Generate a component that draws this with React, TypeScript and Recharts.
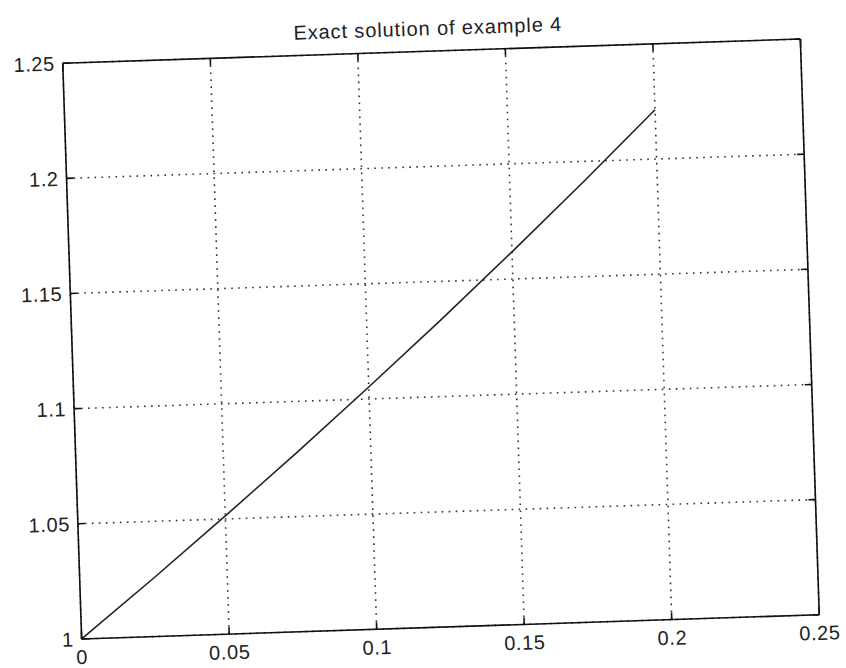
import React from "react";
import { LineChart, Line, XAxis, YAxis, CartesianGrid } from "recharts";

const xValues = [0, 0.025, 0.05, 0.075, 0.1, 0.125, 0.15, 0.175, 0.2];
const yValues = [1, 1.0253, 1.0513, 1.0779, 1.1052, 1.1331, 1.1618, 1.1912, 1.2214];
const xTicks = [0, 0.05, 0.1, 0.15, 0.2, 0.25];
const yTicks = [1, 1.05, 1.1, 1.15, 1.2, 1.25];
const title = "Exact solution of example 4";

const data = xValues.map((x, i) => ({ x, y: yValues[i] }));

const fmt = (v: number) => String(v);
const blank = () => "";
const font = { fontFamily: "'Liberation Sans', Arial, sans-serif", fontSize: 20, fill: "#222", letterSpacing: 0.6 };

export default function App() {
  return (
    <div
      style={{
        position: "absolute",
        left: 0,
        top: 0,
        width: 846,
        height: 668,
        background: "#fff",
        transform: "rotate(-1.88deg)",
        transformOrigin: "440.75px 338.75px",
      }}
    >
      <div
        style={{
          position: "absolute",
          left: 238,
          width: 400,
          top: 16,
          textAlign: "center",
          fontFamily: "'Liberation Sans', Arial, sans-serif",
          fontSize: 20,
          letterSpacing: 0.9,
          color: "#222",
          lineHeight: "24px",
        }}
      >
        {title}
      </div>
      <LineChart
        width={846}
        height={668}
        data={data}
        margin={{ top: 50, right: 35, bottom: 0, left: 0 }}
      >
        <CartesianGrid
          xAxisId="b"
          yAxisId="l"
          stroke="#333"
          strokeWidth={1.6}
          strokeDasharray="1.6 5.4"
          verticalValues={xTicks}
          horizontalValues={yTicks}
        />
        <XAxis
          xAxisId="b"
          dataKey="x"
          type="number"
          domain={[0, 0.25]}
          ticks={xTicks}
          tickFormatter={fmt}
          orientation="bottom"
          height={41}
          tickSize={-7}
          tickMargin={18}
          axisLine={{ stroke: "#111", strokeWidth: 1.6 }}
          tickLine={{ stroke: "#111", strokeWidth: 1.6 }}
          tick={font}
          allowDataOverflow
        />
        <XAxis
          xAxisId="t"
          dataKey="x"
          type="number"
          domain={[0, 0.25]}
          ticks={xTicks}
          tickFormatter={blank}
          orientation="top"
          height={1}
          tickSize={-7}
          tickMargin={0}
          axisLine={{ stroke: "#111", strokeWidth: 1.6 }}
          tickLine={{ stroke: "#111", strokeWidth: 1.6 }}
          tick={font}
          allowDataOverflow
        />
        <YAxis
          yAxisId="l"
          type="number"
          domain={[1, 1.25]}
          ticks={yTicks}
          tickFormatter={fmt}
          orientation="left"
          width={72}
          tickSize={-7}
          tickMargin={15}
          axisLine={{ stroke: "#111", strokeWidth: 1.6 }}
          tickLine={{ stroke: "#111", strokeWidth: 1.6 }}
          tick={font}
          allowDataOverflow
        />
        <YAxis
          yAxisId="r"
          type="number"
          domain={[1, 1.25]}
          ticks={yTicks}
          tickFormatter={blank}
          orientation="right"
          width={1}
          tickSize={-7}
          tickMargin={0}
          axisLine={{ stroke: "#111", strokeWidth: 1.6 }}
          tickLine={{ stroke: "#111", strokeWidth: 1.6 }}
          tick={font}
          allowDataOverflow
        />
        <Line
          xAxisId="b"
          yAxisId="l"
          type="linear"
          dataKey="y"
          stroke="#222"
          strokeWidth={1.6}
          dot={false}
          isAnimationActive={false}
        />
        <Line
          xAxisId="t"
          yAxisId="r"
          type="linear"
          dataKey="y"
          stroke="none"
          dot={false}
          activeDot={false}
          isAnimationActive={false}
        />
      </LineChart>
    </div>
  );
}
